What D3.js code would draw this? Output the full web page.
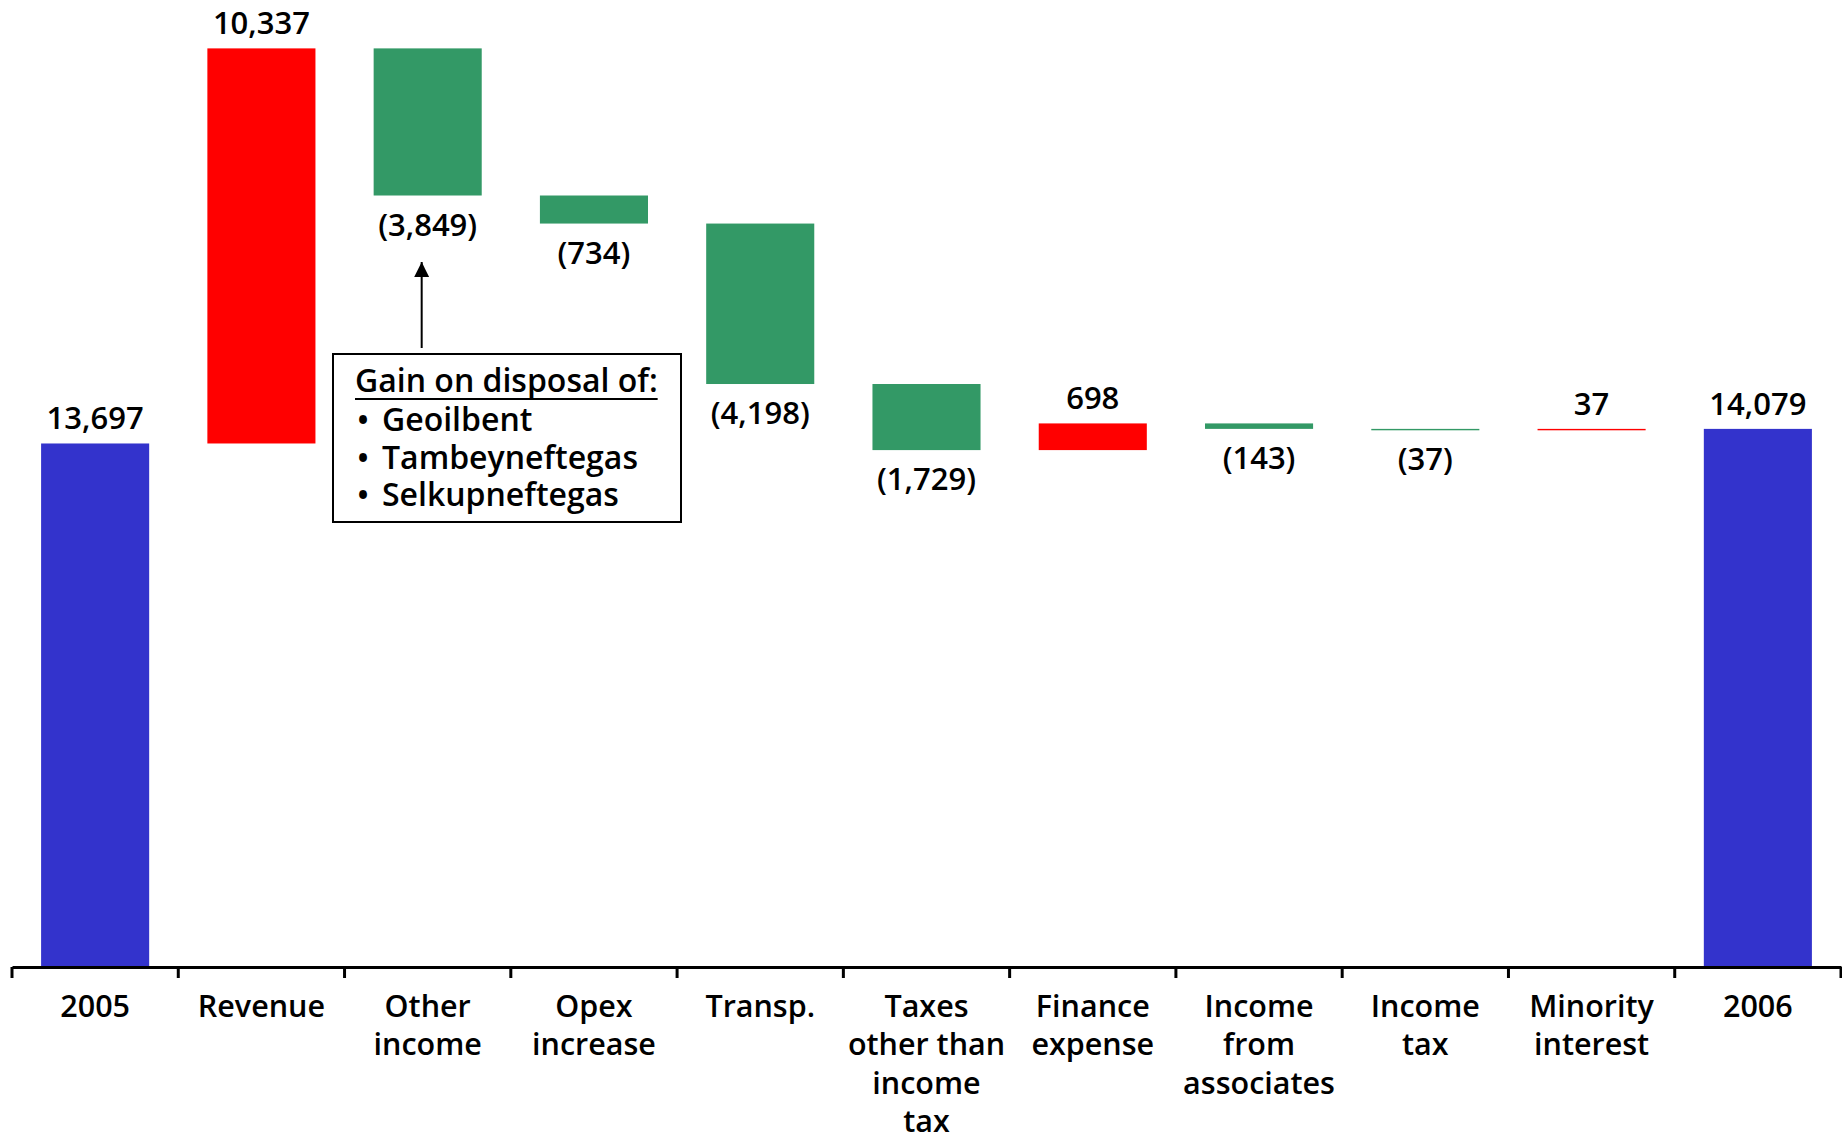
<!DOCTYPE html>
<html>
<head>
<meta charset="utf-8">
<script src="https://cdn.jsdelivr.net/npm/d3@7/dist/d3.min.js"></script>
<style>
  html, body { margin: 0; padding: 0; background: #fff; }
  svg { display: block; }
  text { font-family: "Open Sans", "Noto Sans", sans-serif; font-weight: 600; fill: #000; }
</style>
</head>
<body>
<svg id="chart" width="1842" height="1142"></svg>
<script>
// ---- data ----
const categories = ["2005", "Revenue", "Other income", "Opex increase", "Transp.",
  "Taxes other than income tax", "Finance expense", "Income from associates",
  "Income tax", "Minority interest", "2006"];
const tickLabels = [["2005"], ["Revenue"], ["Other", "income"], ["Opex", "increase"], ["Transp."],
  ["Taxes", "other than", "income", "tax"], ["Finance", "expense"], ["Income", "from", "associates"],
  ["Income", "tax"], ["Minority", "interest"], ["2006"]];
const values = [13697, 10337, -3849, -734, -4198, -1729, 698, -143, -37, 37, 14079];
const isTotal = [true, false, false, false, false, false, false, false, false, false, true];
const noteTitle = "Gain on disposal of:";
const noteItems = ["Geoilbent", "Tambeyneftegas", "Selkupneftegas"];
const noteCategory = "Other income";

// ---- layout ----
const svg = d3.select("#chart");
const axisY = 967;
const x = d3.scaleBand().domain(categories).range([12, 1841]).paddingInner(0.35).paddingOuter(0.175);
const y = d3.scaleLinear().domain([0, 25300]).range([axisY, 0]);
const colors = { total: "#3333CC", up: "#FF0000", down: "#339966" };

// compute waterfall segments
let running = 0;
const bars = categories.map((c, i) => {
  let y0, y1;
  if (isTotal[i]) { y0 = 0; y1 = values[i]; running = values[i]; }
  else { y0 = running; y1 = running + values[i]; running = y1; }
  return { cat: c, v: values[i], lo: Math.min(y0, y1), hi: Math.max(y0, y1), total: isTotal[i] };
});

svg.append("g").selectAll("rect").data(bars).join("rect")
  .attr("x", d => x(d.cat))
  .attr("width", x.bandwidth())
  .attr("y", d => y(d.hi))
  .attr("height", d => Math.max(1, y(d.lo) - y(d.hi)))
  .attr("fill", d => d.total ? colors.total : (d.v > 0 ? colors.up : colors.down));

const fmt = d3.format(",");
svg.append("g").selectAll("text").data(bars).join("text")
  .attr("x", d => x(d.cat) + x.bandwidth() / 2)
  .attr("y", d => (d.total || d.v > 0) ? y(d.hi) - 14 : y(d.lo) + 40)
  .attr("text-anchor", "middle")
  .attr("font-size", 31)
  .text(d => d.v < 0 ? "(" + fmt(-d.v) + ")" : fmt(d.v));

// ---- axis ----
const axis = d3.axisBottom(x).tickSize(0).tickSizeOuter(0).tickFormat(() => "");
const gAxis = svg.append("g").attr("transform", `translate(0,${axisY})`).call(axis);
gAxis.select(".domain").attr("stroke", "#000").attr("stroke-width", 3);
gAxis.selectAll(".tick text").remove();

// boundary tick marks
const bounds = d3.range(categories.length + 1).map(i => x.range()[0] + i * x.step());
gAxis.selectAll(".bound").data(bounds).join("line")
  .attr("class", "bound")
  .attr("x1", d => d).attr("x2", d => d)
  .attr("y1", 0).attr("y2", 11)
  .attr("stroke", "#000").attr("stroke-width", 3);

// multi-line category labels
const lbl = gAxis.selectAll(".lbl").data(categories).join("text")
  .attr("class", "lbl")
  .attr("text-anchor", "middle")
  .attr("font-size", 30.5)
  .attr("transform", d => `translate(${x(d) + x.bandwidth() / 2},0)`);
lbl.each(function (d, i) {
  d3.select(this).selectAll("tspan").data(tickLabels[i]).join("tspan")
    .attr("x", 0)
    .attr("y", (t, j) => 49.5 + j * 38.6)
    .text(t => t);
});

// ---- annotation ----
const ax = x(noteCategory) + x.bandwidth() / 2 - 6;
const defs = svg.append("defs");
defs.append("marker").attr("id", "arrow").attr("viewBox", "0 0 10 10")
  .attr("refX", 10).attr("refY", 5).attr("markerWidth", 15).attr("markerHeight", 15)
  .attr("markerUnits", "userSpaceOnUse").attr("orient", "auto")
  .append("path").attr("d", "M0,0 L10,5 L0,10 Z").attr("fill", "#000");
svg.append("line")
  .attr("x1", ax).attr("x2", ax)
  .attr("y1", 348).attr("y2", 262)
  .attr("stroke", "#000").attr("stroke-width", 2)
  .attr("marker-end", "url(#arrow)");

const box = svg.append("g");
box.append("rect").attr("x", 333).attr("y", 354).attr("width", 348).attr("height", 168)
  .attr("fill", "#fff").attr("stroke", "#000").attr("stroke-width", 2);
const note = box.append("text").attr("font-size", 32);
const title = note.append("tspan").attr("x", 355).attr("y", 392).text(noteTitle);
noteItems.forEach((t, i) => {
  const yy = 431 + i * 37.5;
  note.append("tspan").attr("x", 357).attr("y", yy).text("•");
  note.append("tspan").attr("x", 382).attr("y", yy).text(t);
});
const tw = title.node().getComputedTextLength();
box.append("line").attr("x1", 355).attr("x2", 355 + tw).attr("y1", 399).attr("y2", 399)
  .attr("stroke", "#000").attr("stroke-width", 2);
</script>
</body>
</html>
